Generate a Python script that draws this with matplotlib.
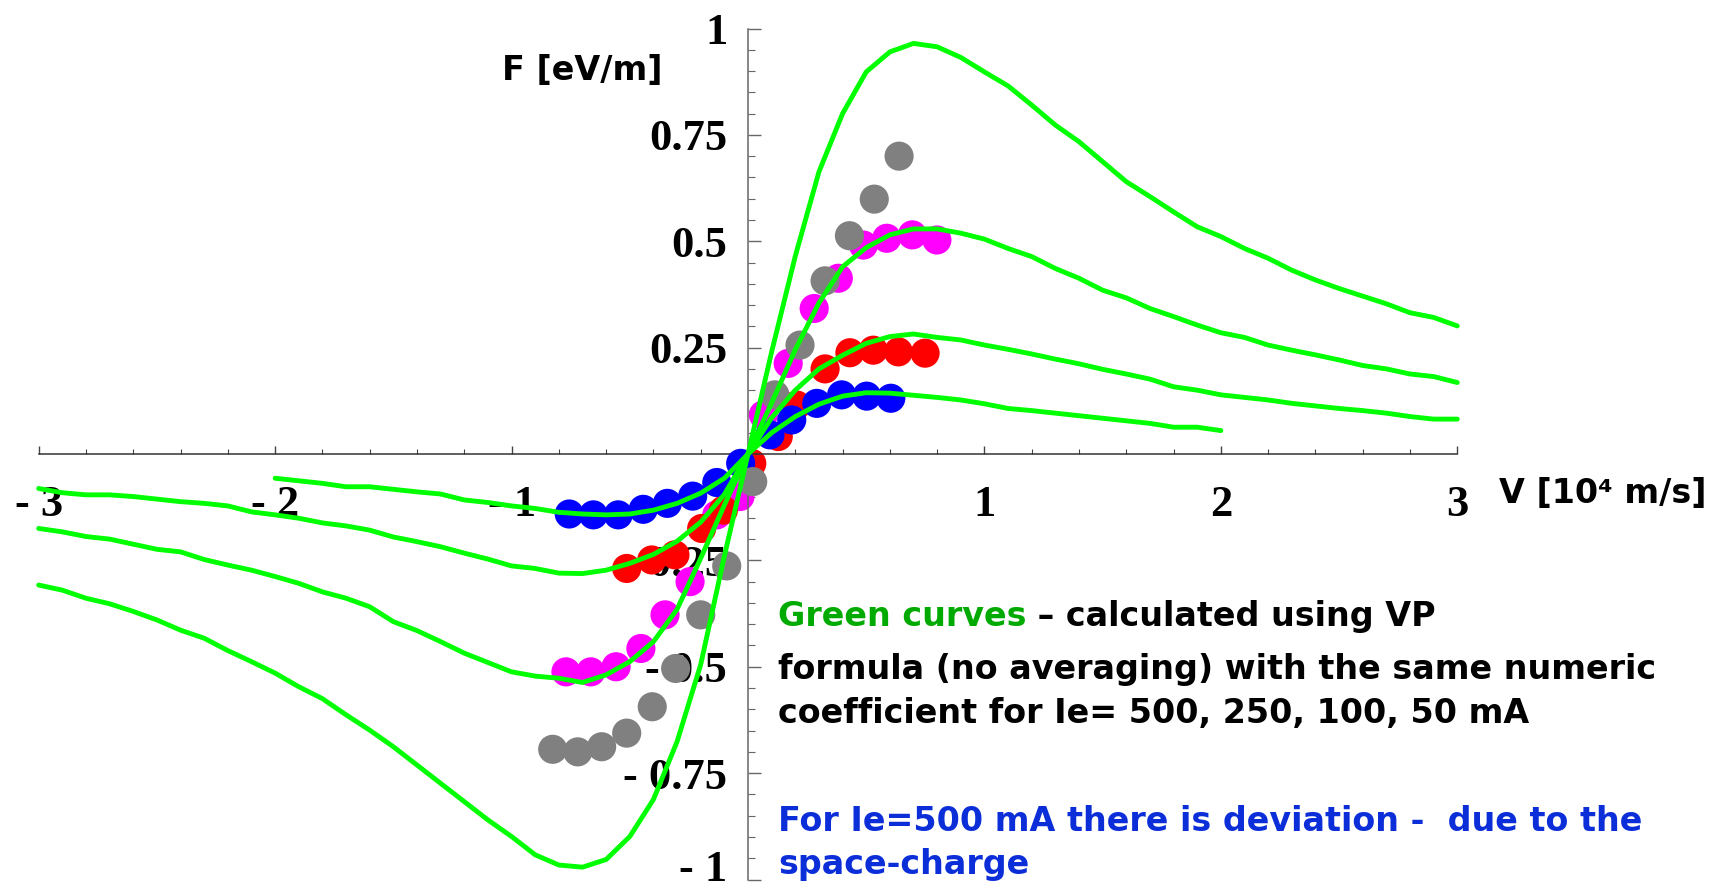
import numpy as np
import matplotlib.pyplot as plt
import matplotlib.transforms as mtransforms

# velocity grid of the calculated curves [10^4 m/s]
v_calc = np.arange(-30, 31) / 10.0
v_calc_short = np.arange(-20, 21) / 10.0

# calculated friction force (VP formula) for Ie = 500, 250, 100, 50 mA
F_500 = [-0.308, -0.320, -0.339, -0.352, -0.370, -0.390, -0.414, -0.433, -0.462, -0.488,
         -0.515, -0.547, -0.575, -0.613, -0.649, -0.688, -0.731, -0.774, -0.817, -0.860,
         -0.899, -0.942, -0.966, -0.971, -0.953, -0.899, -0.812, -0.676, -0.495, -0.240,
         0.0, 0.24, 0.465, 0.663, 0.80, 0.898, 0.945, 0.965, 0.957, 0.932,
         0.898, 0.865, 0.820, 0.773, 0.734, 0.687, 0.640, 0.605, 0.569, 0.534,
         0.511, 0.483, 0.460, 0.432, 0.409, 0.389, 0.371, 0.353, 0.332, 0.321, 0.301]
F_250 = [-0.175, -0.183, -0.194, -0.200, -0.212, -0.224, -0.230, -0.248, -0.261, -0.273,
         -0.288, -0.304, -0.324, -0.339, -0.359, -0.394, -0.415, -0.441, -0.468, -0.490,
         -0.512, -0.522, -0.527, -0.537, -0.519, -0.488, -0.441, -0.365, -0.245, -0.12,
         0.0, 0.12, 0.245, 0.355, 0.44, 0.485, 0.515, 0.529, 0.529, 0.519,
         0.505, 0.483, 0.464, 0.436, 0.413, 0.385, 0.367, 0.342, 0.323, 0.303,
         0.285, 0.274, 0.256, 0.244, 0.233, 0.221, 0.208, 0.200, 0.188, 0.182, 0.168]
F_100 = [-0.081, -0.091, -0.096, -0.096, -0.100, -0.106, -0.112, -0.116, -0.122, -0.136,
         -0.143, -0.151, -0.162, -0.169, -0.179, -0.195, -0.206, -0.218, -0.233, -0.247,
         -0.263, -0.269, -0.280, -0.281, -0.273, -0.257, -0.236, -0.205, -0.16, -0.095,
         0.0, 0.085, 0.15, 0.20, 0.232, 0.260, 0.276, 0.282, 0.274, 0.268,
         0.256, 0.246, 0.235, 0.223, 0.212, 0.199, 0.188, 0.176, 0.158, 0.150,
         0.139, 0.133, 0.127, 0.119, 0.113, 0.107, 0.102, 0.096, 0.088, 0.082, 0.082]
F_50 = [-0.057, -0.063, -0.069, -0.077, -0.077, -0.083, -0.089, -0.094, -0.108, -0.114,
        -0.122, -0.128, -0.137, -0.141, -0.143, -0.141, -0.132, -0.116, -0.092, -0.057,
        0.0, 0.05, 0.088, 0.117, 0.136, 0.144, 0.143, 0.138, 0.133, 0.127,
        0.118, 0.107, 0.102, 0.096, 0.090, 0.084, 0.078, 0.072, 0.063, 0.063, 0.055]

# measured points
v_gray = [-0.826, -0.720, -0.619, -0.513, -0.405, -0.306, -0.200, -0.090, 0.020,
          0.114, 0.220, 0.326, 0.429, 0.534, 0.639]
F_gray = [-0.694, -0.700, -0.688, -0.656, -0.594, -0.504, -0.378, -0.263, -0.065,
          0.139, 0.256, 0.407, 0.513, 0.599, 0.700]
v_magenta = [-0.770, -0.665, -0.558, -0.453, -0.351, -0.245, -0.132, -0.034,
             0.065, 0.170, 0.280, 0.382, 0.488, 0.587, 0.695, 0.799]
F_magenta = [-0.512, -0.512, -0.500, -0.457, -0.378, -0.300, -0.143, -0.100,
             0.092, 0.213, 0.342, 0.413, 0.491, 0.507, 0.515, 0.503]
v_red = [-0.513, -0.407, -0.309, -0.196, -0.104, 0.016, 0.128, 0.206,
         0.326, 0.431, 0.530, 0.636, 0.749]
F_red = [-0.269, -0.249, -0.237, -0.175, -0.132, -0.022, 0.041, 0.115,
         0.200, 0.238, 0.244, 0.240, 0.237]
v_blue = [-0.756, -0.654, -0.549, -0.443, -0.341, -0.234, -0.132, -0.031,
          0.093, 0.185, 0.291, 0.396, 0.502, 0.604]
F_blue = [-0.141, -0.143, -0.143, -0.130, -0.116, -0.099, -0.067, -0.022,
          0.045, 0.080, 0.119, 0.139, 0.136, 0.131]

x_ticks = [-3, -2, -1, 1, 2, 3]
x_tick_labels = ['- 3', '- 2', '- 1', '1', '2', '3']
y_ticks = [-1, -0.75, -0.5, -0.25, 0.25, 0.5, 0.75, 1]
y_tick_labels = ['- 1', '- 0.75', '- 0.5', '- 0.25', '0.25', '0.5', '0.75', '1']

W, H = 1722, 892
fig = plt.figure(figsize=(W / 100, H / 100), dpi=100)
ax = fig.add_axes([38.7 / W, 12.5 / H, 1418.6 / W, 851 / H])
ax.set_xlim(-3, 3)
ax.set_ylim(-1, 1)

# axes through the origin
for side in ['top', 'right']:
    ax.spines[side].set_visible(False)
ax.spines['left'].set_position(('data', 0))
ax.spines['bottom'].set_position(('data', 0))
ax.spines['left'].set_color('#666666')
ax.spines['bottom'].set_color('#333333')
ax.spines['left'].set_linewidth(1.1)
ax.spines['bottom'].set_linewidth(1.1)

ax.set_xticks(x_ticks)
ax.set_xticklabels(x_tick_labels)
ax.set_xticks(np.arange(-3, 3.01, 0.2), minor=True)
ax.set_yticks(y_ticks)
ax.set_yticklabels(y_tick_labels)
ax.set_yticks(np.arange(-1, 1.001, 0.05), minor=True)

ax.tick_params(axis='x', which='major', direction='in', length=5.8, width=1, color='#444444', pad=22)
ax.tick_params(axis='x', which='minor', direction='in', length=3.4, width=0.8, color='#444444')
ax.tick_params(axis='y', which='major', direction='in', length=9, width=1, color='#666666', pad=15)
ax.tick_params(axis='y', which='minor', direction='in', length=4.8, width=0.8, color='#666666')

for lab in ax.get_xticklabels() + ax.get_yticklabels():
    lab.set_fontfamily('Liberation Serif')
    lab.set_fontweight('bold')
    lab.set_fontsize(32)

# lift the bottom label so it stays inside the figure
lift = mtransforms.ScaledTranslation(0, 10 / 72, fig.dpi_scale_trans)
bottom_lab = ax.get_yticklabels()[0]
bottom_lab.set_transform(bottom_lab.get_transform() + lift)

dot = 440
ax.scatter(v_magenta, F_magenta, s=dot, color='#ff00ff', edgecolors='none', zorder=1.9, clip_on=False)
ax.scatter(v_red, F_red, s=dot, color='#ff0000', edgecolors='none', zorder=2.0, clip_on=False)
ax.scatter(v_blue, F_blue, s=dot, color='#0000ff', edgecolors='none', zorder=2.8, clip_on=False)
ax.scatter(v_gray, F_gray, s=dot, color='#808080', edgecolors='none', zorder=3.0, clip_on=False)

green = '#00ff00'
for v, F in [(v_calc, F_500), (v_calc, F_250), (v_calc, F_100), (v_calc_short, F_50)]:
    ax.plot(v, F, color=green, lw=3.5, zorder=4, clip_on=False, solid_capstyle='round')

lab_font = dict(family='DejaVu Sans', weight='bold', size=24)
fig.text(502 / W, 1 - 80 / H, 'F [eV/m]', va='baseline', ha='left', **lab_font)
fig.text(1499 / W, 1 - 503 / H, 'V [10\u2074 m/s]', va='baseline', ha='left', **lab_font)

x0 = 778 / W
t1 = fig.text(x0, 1 - 626 / H, 'Green curves', color='#00aa00', va='baseline', ha='left', **lab_font)
ax.annotate(' \u2013 calculated using VP', xy=(1, 0), xycoords=t1, va='bottom', ha='left',
            color='black', **lab_font)
fig.text(x0, 1 - 679 / H, 'formula (no averaging) with the same numeric',
         va='baseline', ha='left', **lab_font)
fig.text(x0, 1 - 723 / H, 'coefficient for Ie= 500, 250, 100, 50 mA',
         va='baseline', ha='left', **lab_font)
fig.text(x0, 1 - 831 / H, 'For Ie=500 mA there is deviation -  due to the',
         color='#0b2ed9', va='baseline', ha='left', **lab_font)
fig.text(x0, 1 - 874 / H, 'space-charge', color='#0b2ed9', va='baseline', ha='left', **lab_font)

fig.savefig('out.png', dpi=100)
